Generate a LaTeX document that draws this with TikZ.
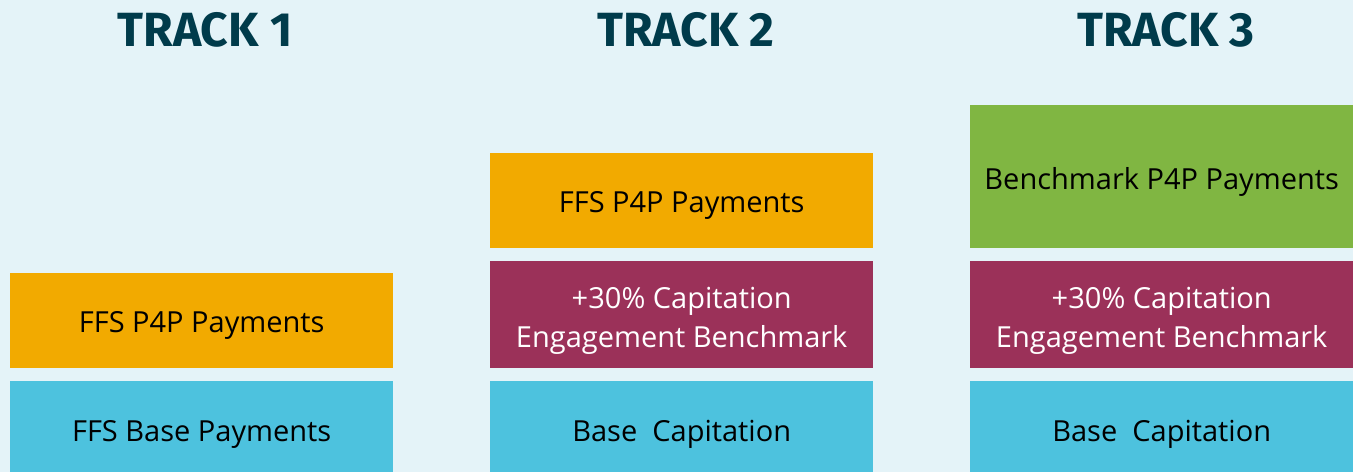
\documentclass[tikz,border=0pt]{standalone}
\usepackage{fontspec}
\setmainfont{Open Sans}
\newfontfamily\titlefont{Fira Sans}
\definecolor{bgc}{HTML}{E4F3F8}
\definecolor{orangec}{HTML}{F2AA00}
\definecolor{bluec}{HTML}{4DC2DE}
\definecolor{maroonc}{HTML}{9B3159}
\definecolor{greenc}{HTML}{80B642}
\definecolor{titlec}{HTML}{003B4B}
\begin{document}
\begin{tikzpicture}[x=1pt,y=-1pt,
  blk/.style={anchor=north west,inner sep=0pt,minimum width=383pt},
  lbl/.style={inner sep=0pt,align=center,yshift=-5pt,font=\fontsize{29}{39}\selectfont},
  ttl/.style={font=\titlefont\bfseries\fontsize{48}{52}\selectfont,text=titlec}]
\fill[bgc] (0,0) rectangle (1353,472);
\useasboundingbox (0,0) rectangle (1353,472);
% Track 1
\node[ttl] (t1) at (205,30) {TRACK 1};
\node[blk,fill=orangec,minimum height=95pt] (a1) at (10,273) {};
\node[lbl] (a1t) at (a1.center) {FFS P4P Payments};
\node[blk,fill=bluec,minimum height=91pt] (b1) at (10,381) {};
\node[lbl,yshift=-3pt] (b1t) at (b1.center) {FFS Base Payments};
% Track 2
\node[ttl] (t2) at (686,30) {TRACK 2};
\node[blk,fill=orangec,minimum height=95pt] (a2) at (490,153) {};
\node[lbl] (a2t) at (a2.center) {FFS P4P Payments};
\node[blk,fill=maroonc,minimum height=107pt] (m2) at (490,261) {};
\node[lbl,text=white,yshift=-1pt] (m2t) at (m2.center) {+30\% Capitation\\Engagement Benchmark};
\node[blk,fill=bluec,minimum height=91pt] (b2) at (490,381) {};
\node[lbl,yshift=-3pt] (b2t) at (b2.center) {Base\ \ Capitation};
% Track 3
\node[ttl] (t3) at (1166,30) {TRACK 3};
\node[blk,fill=greenc,minimum height=143pt] (g3) at (970,105) {};
\node[lbl] (g3t) at (g3.center) {Benchmark P4P Payments};
\node[blk,fill=maroonc,minimum height=107pt] (m3) at (970,261) {};
\node[lbl,text=white,yshift=-1pt] (m3t) at (m3.center) {+30\% Capitation\\Engagement Benchmark};
\node[blk,fill=bluec,minimum height=91pt] (b3) at (970,381) {};
\node[lbl,yshift=-3pt] (b3t) at (b3.center) {Base\ \ Capitation};
\end{tikzpicture}
\end{document}
